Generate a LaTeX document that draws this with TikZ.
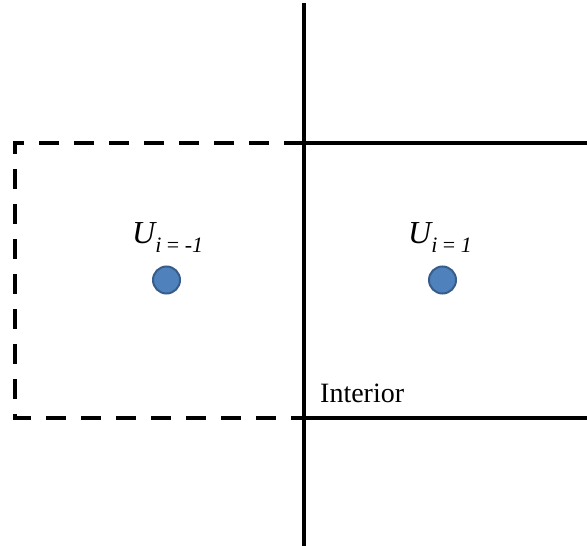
\documentclass[tikz,border=0pt]{standalone}
\usepackage{fontspec}
\setmainfont{Liberation Serif}
\begin{document}
\begin{tikzpicture}[x=1pt,y=-1pt,
  gridline/.style={line width=4pt,black},
  ghostline/.style={line width=4pt,black,dash pattern=on 20pt off 15pt},
  cellpt/.style={circle,draw={rgb,255:red,56;green,93;blue,138},line width=2pt,
    fill={rgb,255:red,79;green,129;blue,189},minimum size=27pt,inner sep=0pt},
  ulabel/.style={anchor=base west,inner sep=0pt},
  plain/.style={anchor=base west,inner sep=0pt,font=\fontsize{28}{30}\selectfont}]
\useasboundingbox (0,0) rectangle (587,546);
\coordinate (vtop) at (304,3);
\coordinate (vbot) at (304,546);
\coordinate (tl) at (15,143);
\coordinate (tm) at (304,143);
\coordinate (tr) at (587,143);
\coordinate (bl) at (15,418);
\coordinate (bm) at (304,418);
\coordinate (br) at (587,418);
\draw[gridline] (vtop) -- (vbot);
\draw[gridline] (tm) -- (tr);
\draw[gridline] (bm) -- (br);
\draw[ghostline] (tm) -- (tl) -- (bl) -- (bm);
\node[cellpt] (p1) at (166.5,280) {};
\node[cellpt] (p2) at (442.5,280) {};
\node[ulabel] (l1) at (132,243) {\fontsize{32}{34}\selectfont\itshape U\raisebox{-9pt}{\fontsize{22}{24}\selectfont\itshape i\ \upshape=\ \itshape -1}};
\node[ulabel] (l2) at (408,243) {\fontsize{32}{34}\selectfont\itshape U\raisebox{-9pt}{\fontsize{22}{24}\selectfont\itshape i\ \upshape=\ \itshape 1}};
\node[plain] (int) at (320,402) {Interior};
\end{tikzpicture}
\end{document}
